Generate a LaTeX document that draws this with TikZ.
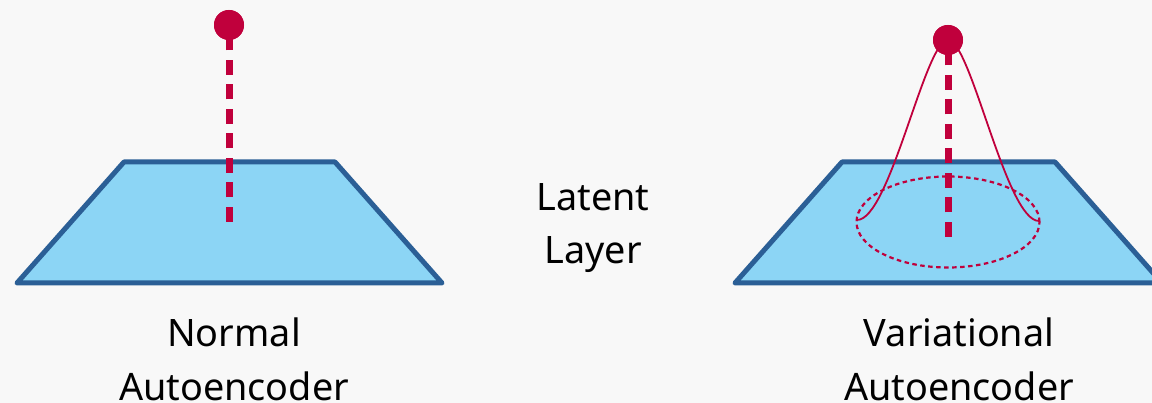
\documentclass[tikz,border=0pt]{standalone}
\usepackage{fontspec}
\usetikzlibrary{shapes.geometric}
\setmainfont{Noto Sans}
\definecolor{bgcol}{RGB}{248,248,248}
\definecolor{planefill}{RGB}{140,213,245}
\definecolor{planeedge}{RGB}{43,95,150}
\definecolor{pointcol}{RGB}{192,0,60}
\tikzset{
  plane/.style={fill=planefill, draw=planeedge, line width=5pt, line join=round},
  point/.style={circle, fill=pointcol, minimum size=30pt, inner sep=0pt},
  stem/.style={draw=pointcol, line width=7pt, dash pattern=on 15pt off 9.5pt},
  bell/.style={draw=pointcol, line width=1.8pt},
  spread/.style={draw=pointcol, line width=2.2pt, dash pattern=on 4.5pt off 3.5pt},
  caption/.style={align=center, font=\fontsize{37.8}{53.5}\selectfont, text=black, inner sep=0pt}
}
\begin{document}
\begin{tikzpicture}[x=1pt, y=-1pt]
  % canvas
  \path[use as bounding box, clip] (0,0) rectangle (1152,403);
  \fill[bgcol] (0,0) rectangle (1152,403);

  % left: plain autoencoder, one point above the latent plane
  \draw[plane] (124,162) -- (335,162) -- (442,283) -- (17,283) -- cycle;
  \coordinate (lfoot) at (229,222);
  \node[point] (ldot) at (229,25) {};
  \draw[stem] (lfoot) -- (ldot.center);
  \node[point] at (ldot) {};

  % right: variational autoencoder, a distribution over the plane
  \draw[plane] (842,162) -- (1055,162) -- (1162,283) -- (735,283) -- cycle;
  \node[spread, ellipse, minimum width=183pt, minimum height=91pt, inner sep=0pt] (ring) at (948,222) {};
  \coordinate (rfoot) at (948,237);
  \coordinate (bl) at (857,220);
  \coordinate (br) at (1039,221);
  \coordinate (peak) at (948,40);
  \draw[bell] (bl) .. controls (890,220) and (925,40) .. (peak)
                   .. controls (971,40) and (1006,221) .. (br);
  \node[point] (rdot) at (peak) {};
  \draw[stem] (rfoot) -- (rdot.center);
  \node[point] at (rdot) {};

  % captions (anchored on the baseline of the second line)
  \node[caption, anchor=base] (latent) at (593,264) {Latent\\Layer};
  \node[caption, anchor=base] (normal) at (234,400) {Normal\\Autoencoder};
  \node[caption, anchor=base] (variational) at (959,400) {Variational\\Autoencoder};
\end{tikzpicture}
\end{document}
